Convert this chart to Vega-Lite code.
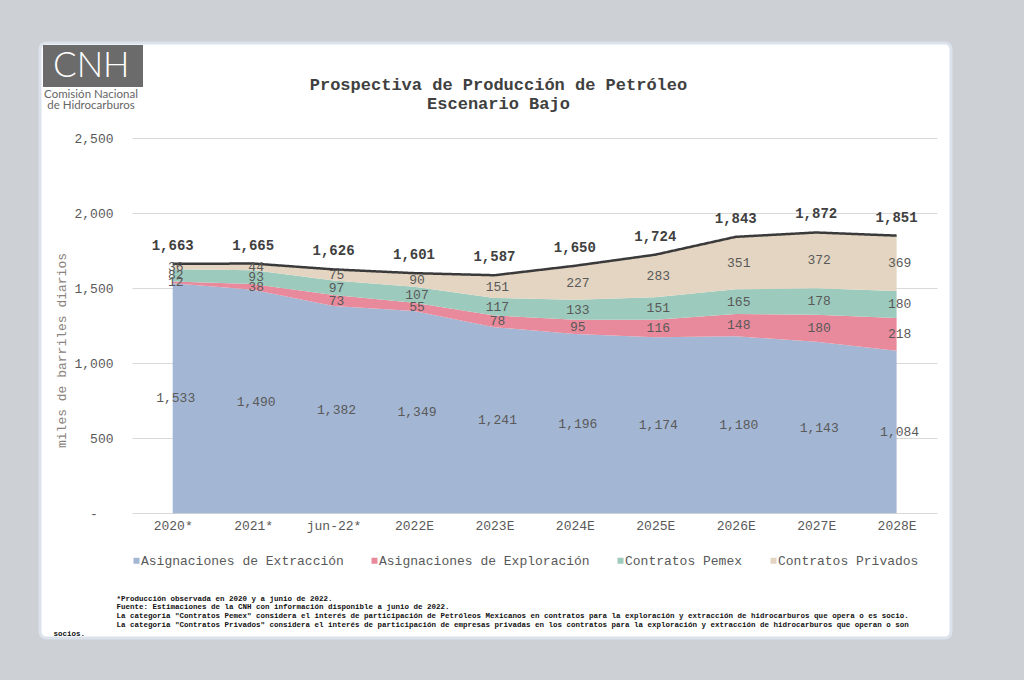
{
  "$schema": "https://vega.github.io/schema/vega-lite/v6.json",
  "width": 911,
  "height": 595,
  "autosize": {"type": "none"},
  "padding": {"left": 40, "top": 43, "right": 73, "bottom": 42},
  "background": "#cdd0d5",
  "config": {
    "view": {"fill": "#ffffff", "stroke": "#dbe2eb", "strokeWidth": 3, "cornerRadius": 6},
    "font": "Liberation Mono"
  },
  "title": {
    "text": ["Prospectiva de Producción de Petróleo", "Escenario Bajo"],
    "anchor": "middle",
    "frame": "group",
    "offset": -70,
    "dx": 3,
    "font": "Liberation Mono",
    "fontSize": 17,
    "fontWeight": "bold",
    "color": "#404040",
    "lineHeight": 19
  },
  "datasets": {
    "segmentos": [
      {"periodo": "2020*", "categoria": "Asignaciones de Extracción", "valor": 1533},
      {"periodo": "2020*", "categoria": "Asignaciones de Exploración", "valor": 12},
      {"periodo": "2020*", "categoria": "Contratos Pemex", "valor": 82},
      {"periodo": "2020*", "categoria": "Contratos Privados", "valor": 36},
      {"periodo": "2021*", "categoria": "Asignaciones de Extracción", "valor": 1490},
      {"periodo": "2021*", "categoria": "Asignaciones de Exploración", "valor": 38},
      {"periodo": "2021*", "categoria": "Contratos Pemex", "valor": 93},
      {"periodo": "2021*", "categoria": "Contratos Privados", "valor": 44},
      {"periodo": "jun-22*", "categoria": "Asignaciones de Extracción", "valor": 1382},
      {"periodo": "jun-22*", "categoria": "Asignaciones de Exploración", "valor": 73},
      {"periodo": "jun-22*", "categoria": "Contratos Pemex", "valor": 97},
      {"periodo": "jun-22*", "categoria": "Contratos Privados", "valor": 75},
      {"periodo": "2022E", "categoria": "Asignaciones de Extracción", "valor": 1349},
      {"periodo": "2022E", "categoria": "Asignaciones de Exploración", "valor": 55},
      {"periodo": "2022E", "categoria": "Contratos Pemex", "valor": 107},
      {"periodo": "2022E", "categoria": "Contratos Privados", "valor": 90},
      {"periodo": "2023E", "categoria": "Asignaciones de Extracción", "valor": 1241},
      {"periodo": "2023E", "categoria": "Asignaciones de Exploración", "valor": 78},
      {"periodo": "2023E", "categoria": "Contratos Pemex", "valor": 117},
      {"periodo": "2023E", "categoria": "Contratos Privados", "valor": 151},
      {"periodo": "2024E", "categoria": "Asignaciones de Extracción", "valor": 1196},
      {"periodo": "2024E", "categoria": "Asignaciones de Exploración", "valor": 95},
      {"periodo": "2024E", "categoria": "Contratos Pemex", "valor": 133},
      {"periodo": "2024E", "categoria": "Contratos Privados", "valor": 227},
      {"periodo": "2025E", "categoria": "Asignaciones de Extracción", "valor": 1174},
      {"periodo": "2025E", "categoria": "Asignaciones de Exploración", "valor": 116},
      {"periodo": "2025E", "categoria": "Contratos Pemex", "valor": 151},
      {"periodo": "2025E", "categoria": "Contratos Privados", "valor": 283},
      {"periodo": "2026E", "categoria": "Asignaciones de Extracción", "valor": 1180},
      {"periodo": "2026E", "categoria": "Asignaciones de Exploración", "valor": 148},
      {"periodo": "2026E", "categoria": "Contratos Pemex", "valor": 165},
      {"periodo": "2026E", "categoria": "Contratos Privados", "valor": 351},
      {"periodo": "2027E", "categoria": "Asignaciones de Extracción", "valor": 1143},
      {"periodo": "2027E", "categoria": "Asignaciones de Exploración", "valor": 180},
      {"periodo": "2027E", "categoria": "Contratos Pemex", "valor": 178},
      {"periodo": "2027E", "categoria": "Contratos Privados", "valor": 372},
      {"periodo": "2028E", "categoria": "Asignaciones de Extracción", "valor": 1084},
      {"periodo": "2028E", "categoria": "Asignaciones de Exploración", "valor": 218},
      {"periodo": "2028E", "categoria": "Contratos Pemex", "valor": 180},
      {"periodo": "2028E", "categoria": "Contratos Privados", "valor": 369}
    ],
    "totales": [
      {"periodo": "2020*", "total": 1663},
      {"periodo": "2021*", "total": 1665},
      {"periodo": "jun-22*", "total": 1626},
      {"periodo": "2022E", "total": 1601},
      {"periodo": "2023E", "total": 1587},
      {"periodo": "2024E", "total": 1650},
      {"periodo": "2025E", "total": 1724},
      {"periodo": "2026E", "total": 1843},
      {"periodo": "2027E", "total": 1872},
      {"periodo": "2028E", "total": 1851}
    ]
  },
  "encoding": {
    "x": {
      "field": "periodo",
      "type": "ordinal",
      "scale": {
        "type": "point",
        "domain": ["_", "2020*", "2021*", "jun-22*", "2022E", "2023E", "2024E", "2025E", "2026E", "2027E", "2028E"],
        "padding": 0.663,
        "align": 0.49
      },
      "axis": {
        "orient": "bottom",
        "offset": -125,
        "values": ["2020*", "2021*", "jun-22*", "2022E", "2023E", "2024E", "2025E", "2026E", "2027E", "2028E"],
        "domain": false,
        "ticks": false,
        "grid": false,
        "labelAngle": 0,
        "labelPadding": 6,
        "labelFont": "Liberation Mono",
        "labelFontSize": 13,
        "labelColor": "#595959",
        "title": [
          "\u200b\u00a0\u00a0\u00a0\u00a0\u00a0\u00a0\u00a0\u00a0\u00a0\u00a0\u00a0\u00a0\u00a0\u00a0*Producción observada en 2020 y a junio de 2022.",
          "\u200b\u00a0\u00a0\u00a0\u00a0\u00a0\u00a0\u00a0\u00a0\u00a0\u00a0\u00a0\u00a0\u00a0\u00a0Fuente: Estimaciones de la CNH con información disponible a junio de 2022.",
          "\u200b\u00a0\u00a0\u00a0\u00a0\u00a0\u00a0\u00a0\u00a0\u00a0\u00a0\u00a0\u00a0\u00a0\u00a0La categoría \"Contratos Pemex\" considera el interés de participación de Petróleos Mexicanos en contratos para la exploración y extracción de hidrocarburos que opera o es socio.",
          "\u200b\u00a0\u00a0\u00a0\u00a0\u00a0\u00a0\u00a0\u00a0\u00a0\u00a0\u00a0\u00a0\u00a0\u00a0La categoría \"Contratos Privados\" considera el interés de participación de empresas privadas en los contratos para la exploración y extracción de hidrocarburos que operan o son",
          "socios."
        ],
        "titleX": 13,
        "titleY": 81,
        "titleAlign": "left",
        "titleAnchor": "start",
        "titleBaseline": "top",
        "titleFont": "Liberation Mono",
        "titleFontSize": 7.5,
        "titleFontWeight": "bold",
        "titleColor": "#111111",
        "titleLineHeight": 8.75
      }
    }
  },
  "layer": [
    {
      "data": {"name": "segmentos"},
      "transform": [
        {"calculate": "indexof(['Asignaciones de Extracción','Asignaciones de Exploración','Contratos Pemex','Contratos Privados'], datum.categoria)", "as": "orden"},
        {"stack": "valor", "groupby": ["periodo"], "sort": [{"field": "orden", "order": "ascending"}], "as": ["y0", "y1"]}
      ],
      "mark": {"type": "area", "opacity": 1},
      "encoding": {
        "y": {
          "field": "y1",
          "type": "quantitative",
          "scale": {"domain": [-831, 3135], "nice": false, "zero": false},
          "axis": {
            "orient": "left",
            "offset": -80,
            "values": [0, 500, 1000, 1500, 2000, 2500],
            "labelExpr": "datum.value === 0 ? '-\u00a0\u00a0\u200b' : format(datum.value, ',')",
            "domain": false,
            "ticks": false,
            "grid": true,
            "gridColor": "#d9d9d9",
            "gridWidth": 1,
            "gridDash": [0, 92, 805, 300],
            "labelPadding": 7,
            "labelFont": "Liberation Mono",
            "labelFontSize": 13,
            "labelColor": "#595959",
            "title": "miles de barriles diarios",
            "titleX": -59,
            "titleY": 307,
            "titleBaseline": "middle",
            "titleFont": "Liberation Mono",
            "titleFontSize": 13,
            "titleFontWeight": "normal",
            "titleColor": "#8a837d"
          }
        },
        "y2": {"field": "y0"},
        "color": {
          "field": "categoria",
          "type": "nominal",
          "scale": {
            "domain": ["Asignaciones de Extracción", "Asignaciones de Exploración", "Contratos Pemex", "Contratos Privados"],
            "range": ["#a3b6d3", "#e88a9b", "#9ccabd", "#e3d5c1"]
          },
          "legend": {
            "orient": "none",
            "legendX": 90,
            "legendY": 511,
            "direction": "horizontal",
            "title": null,
            "padding": 0,
            "symbolType": "square",
            "symbolSize": 36,
            "symbolStrokeWidth": 0,
            "labelOffset": -2,
            "columnPadding": 24,
            "labelFont": "Liberation Mono",
            "labelFontSize": 13,
            "labelColor": "#595959",
            "labelLimit": 0
          }
        },
        "order": {"value": null}
      }
    },
    {
      "data": {"name": "totales"},
      "mark": {"type": "line", "stroke": "#3a3a3a", "strokeWidth": 2.5},
      "encoding": {
        "y": {
          "field": "total",
          "type": "quantitative",
          "scale": {"domain": [-831, 3135], "nice": false, "zero": false},
          "axis": {
            "orient": "right",
            "labels": false,
            "ticks": false,
            "domain": false,
            "grid": false,
            "title": ["Comisión Nacional", "de Hidrocarburos"],
            "titleAngle": 0,
            "titleX": -860.5,
            "titleY": 45,
            "titleAlign": "center",
            "titleBaseline": "top",
            "titleFont": "Lato",
            "titleFontSize": 11.5,
            "titleFontWeight": "normal",
            "titleColor": "#666666",
            "titleLineHeight": 11
          }
        },
        "strokeDash": {
          "datum": "CNH",
          "legend": {
            "orient": "none",
            "legendX": 3,
            "legendY": 2,
            "title": null,
            "fillColor": "#6b6b6b",
            "padding": 3,
            "symbolOpacity": 0,
            "symbolSize": 1,
            "labelExpr": "'CNH\u00a0\u200b'",
            "labelColor": "#ffffff",
            "labelFont": "Lato",
            "labelFontSize": 35,
            "labelFontWeight": 300,
            "labelOffset": -28,
            "labelLimit": 0
          }
        },
        "order": {"value": null}
      }
    },
    {
      "data": {"name": "segmentos"},
      "transform": [
        {"calculate": "indexof(['Asignaciones de Extracción','Asignaciones de Exploración','Contratos Pemex','Contratos Privados'], datum.categoria)", "as": "orden"},
        {"stack": "valor", "groupby": ["periodo"], "sort": [{"field": "orden", "order": "ascending"}], "as": ["y0", "y1"]},
        {"calculate": "(datum.y0 + datum.y1) / 2", "as": "medio"}
      ],
      "mark": {"type": "text", "font": "Liberation Mono", "fontSize": 13, "color": "#595959", "dx": 3, "baseline": "middle"},
      "encoding": {
        "y": {
          "field": "medio",
          "type": "quantitative",
          "scale": {"domain": [-831, 3135], "nice": false, "zero": false},
          "axis": null
        },
        "text": {"field": "valor", "type": "quantitative", "format": ","}
      }
    },
    {
      "data": {"name": "totales"},
      "mark": {"type": "text", "font": "Liberation Mono", "fontSize": 14, "fontWeight": "bold", "color": "#404040", "dy": -18, "baseline": "middle"},
      "encoding": {
        "y": {
          "field": "total",
          "type": "quantitative",
          "scale": {"domain": [-831, 3135], "nice": false, "zero": false},
          "axis": null
        },
        "text": {"field": "total", "type": "quantitative", "format": ","}
      }
    }
  ],
  "resolve": {"axis": {"y": "independent"}}
}
